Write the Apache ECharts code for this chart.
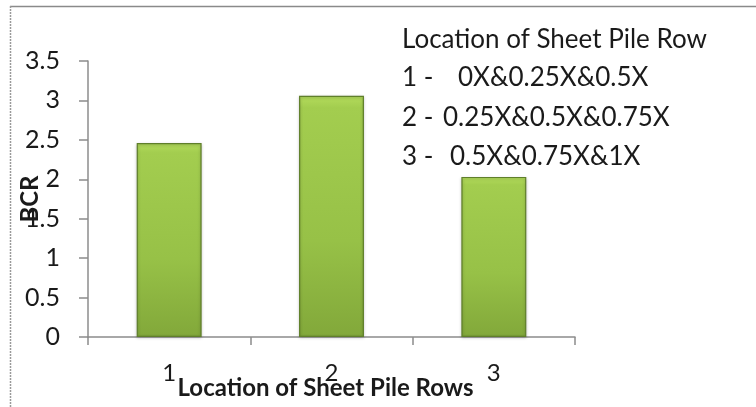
<!DOCTYPE html>
<html>
<head>
<meta charset="utf-8">
<script src="https://cdn.jsdelivr.net/npm/echarts@6/dist/echarts.min.js"></script>
<style>
  html, body { margin: 0; padding: 0; background: #fff; }
  #main { width: 756px; height: 407px; }
</style>
</head>
<body>
<div id="main"></div>
<script>
// data
var rowCategories = ['1', '2', '3'];
var bcrValues = [2.46, 3.06, 2.03];
var yTicks = [0, 0.5, 1, 1.5, 2, 2.5, 3, 3.5];
// note box lines (prefix / description)
var noteTitle = 'Location of Sheet Pile Row';
var notePrefix = ['1 -', '2 -', '3 -'];
var noteText = ['0X&0.25X&0.5X', '0.25X&0.5X&0.75X', '0.5X&0.75X&1X'];

var textFont = 'Lato';
var myChart = echarts.init(document.getElementById('main'));

// note box, text offsets
var noteX = [458, 443, 450];
var noteGraphic = [{
    type: 'text',
    left: 402,
    top: 27,
    style: { text: noteTitle, fill: '#1a1a1a', font: '26px ' + textFont }
}];
for (var i = 0; i < notePrefix.length; i++) {
    noteGraphic.push({
        type: 'text',
        left: 402,
        top: 65 + i * 39.5,
        style: { text: notePrefix[i], fill: '#1a1a1a', font: '26px ' + textFont }
    });
    noteGraphic.push({
        type: 'text',
        left: noteX[i],
        top: 65 + i * 39.5,
        style: { text: noteText[i], fill: '#1a1a1a', font: '26px ' + textFont }
    });
}
// frame lines
noteGraphic.push({
    type: 'line',
    shape: { x1: 10, y1: 6.5, x2: 756, y2: 6.5 },
    style: { stroke: '#8a8a8a', lineWidth: 1.5 }
});
noteGraphic.push({
    type: 'line',
    shape: { x1: 10.5, y1: 6, x2: 10.5, y2: 407 },
    style: { stroke: '#9a9a9a', lineWidth: 1.5, lineDash: [2, 1] }
});

var option = {
    animation: false,
    backgroundColor: '#fff',
    grid: {
        left: 88,
        right: 181,
        top: 61,
        bottom: 70,
        outerBoundsMode: 'none'
    },
    xAxis: {
        type: 'category',
        data: rowCategories,
        name: 'Location of Sheet Pile Rows',
        nameLocation: 'middle',
        nameGap: 39,
        nameMoveOverlap: false,
        nameTextStyle: {
            color: '#1a1a1a',
            fontFamily: textFont,
            fontWeight: 'bold',
            fontSize: 24,
            padding: [0, 12, 0, 0]
        },
        axisLine: { lineStyle: { color: '#8c8c8c', width: 1.5 } },
        axisTick: { show: true, length: 8, lineStyle: { color: '#8c8c8c', width: 1.5 } },
        axisLabel: {
            color: '#1a1a1a',
            fontFamily: textFont,
            fontSize: 24,
            margin: 24
        }
    },
    yAxis: {
        type: 'value',
        min: yTicks[0],
        max: yTicks[yTicks.length - 1],
        interval: 0.5,
        name: 'BCR',
        nameLocation: 'middle',
        nameGap: 46,
        nameRotate: 90,
        nameMoveOverlap: false,
        nameTextStyle: {
            color: '#1a1a1a',
            fontFamily: textFont,
            fontWeight: 'bold',
            fontSize: 24
        },
        axisLine: { show: true, lineStyle: { color: '#8c8c8c', width: 1.5 } },
        axisTick: { show: true, length: 9, lineStyle: { color: '#8c8c8c', width: 1.5 } },
        splitLine: { show: false },
        axisLabel: {
            color: '#1a1a1a',
            fontFamily: textFont,
            fontSize: 25,
            margin: 28
        }
    },
    series: [{
        name: 'BCR',
        type: 'bar',
        barWidth: '40%',
        data: bcrValues,
        itemStyle: {
            color: new echarts.graphic.LinearGradient(0, 0, 0, 1, [
                { offset: 0, color: '#b4dc5c' },
                { offset: 0.05, color: '#a3cd4f' },
                { offset: 0.6, color: '#97c147' },
                { offset: 1, color: '#82a83a' }
            ]),
            borderColor: '#5f7f2a',
            borderWidth: 1.2,
            shadowColor: 'rgba(0,0,0,0.25)',
            shadowBlur: 3,
            shadowOffsetY: 1
        }
    }],
    graphic: noteGraphic
};

myChart.setOption(option);
</script>
</body>
</html>
